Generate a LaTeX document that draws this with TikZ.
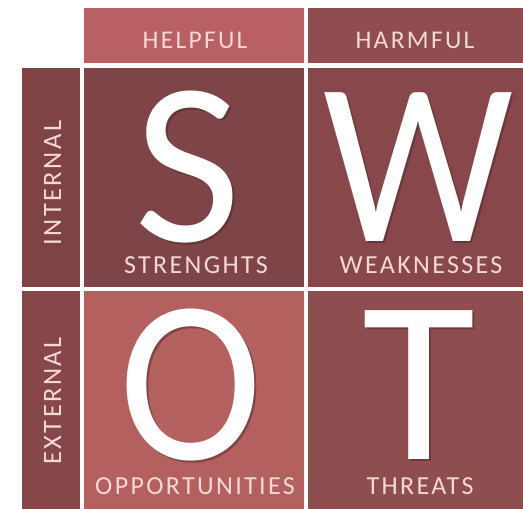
\documentclass[tikz,border=0pt]{standalone}
\usepackage{fontspec}
\setmainfont{Carlito}
\newfontfamily\spacedfont[LetterSpace=9]{Carlito}
\definecolor{hdrA}{HTML}{B86064}
\definecolor{hdrB}{HTML}{8F4D50}
\definecolor{cellS}{HTML}{7E4447}
\definecolor{cellW}{HTML}{88484B}
\definecolor{cellO}{HTML}{B3605F}
\definecolor{cellT}{HTML}{8E4D4E}
\definecolor{sideI}{HTML}{7F4346}
\definecolor{sideE}{HTML}{874649}
\definecolor{lbl}{HTML}{F4D8D6}
\definecolor{shade}{HTML}{4A2426}
\tikzset{
  big/.style={text=white,font=\fontsize{232}{232}\selectfont,inner sep=0pt,anchor=base},
  bigshadow/.style={text=shade,opacity=0.45,font=\fontsize{232}{232}\selectfont,inner sep=0pt,anchor=base},
  lab/.style={text=lbl,font=\spacedfont\fontsize{26}{26}\selectfont,inner sep=0pt,anchor=base},
  hdr/.style={text=lbl,font=\spacedfont\fontsize{25.5}{25.5}\selectfont,inner sep=0pt,anchor=base},
  side/.style={text=lbl,font=\spacedfont\fontsize{26.5}{26.5}\selectfont,inner sep=0pt,anchor=base,rotate=90},
}
\begin{document}
\begin{tikzpicture}[x=1pt,y=-1pt]
\useasboundingbox (0,0) rectangle (523,509);
\fill[white] (0,0) rectangle (523,509);
% header
\fill[hdrA] (84,8) rectangle (304,63);
\fill[hdrB] (308,8) rectangle (523,63);
% side
\fill[sideI] (22,68) rectangle (80,287);
\fill[sideE] (22,291) rectangle (80,509);
% cells
\fill[cellS] (84,68) rectangle (304,287);
\fill[cellW] (308,68) rectangle (523,287);
\fill[cellO] (84,291) rectangle (304,509);
\fill[cellT] (308,291) rectangle (523,509);
% header labels
\node[hdr] (helpful) at (195,48) {HELPFUL};
\node[hdr] (harmful) at (415,48) {HARMFUL};
% side labels
\node[side] (internal) at (61,183) {INTERNAL};
\node[side] (external) at (61,401) {EXTERNAL};
% big letters shadows
\node[bigshadow] (Ssh) at (190,243) {S};
\node[bigshadow] (Wsh) at (420,243) {\scalebox{0.92}[1]{W}};
\node[bigshadow] (Osh) at (193,461) {\scalebox{0.93}[1]{O}};
\node[bigshadow] (Tsh) at (421,461) {T};
% big letters
\node[big] (S) at (188,241) {S};
\node[big] (W) at (418,241) {\scalebox{0.92}[1]{W}};
\node[big] (O) at (191,459) {\scalebox{0.93}[1]{O}};
\node[big] (T) at (419,459) {T};
% cell labels
\node[lab] (s) at (196,273) {STRENGHTS};
\node[lab] (w) at (421,273) {WEAKNESSES};
\node[lab] (o) at (195,494) {OPPORTUNITIES};
\node[lab] (t) at (420,494) {THREATS};
\end{tikzpicture}
\end{document}
